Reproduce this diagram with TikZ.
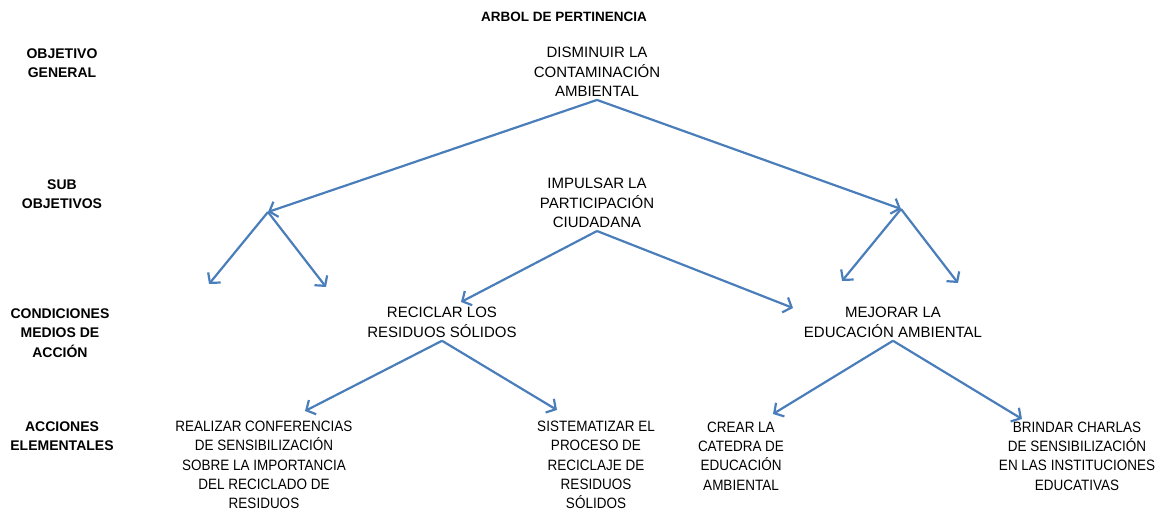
\documentclass[tikz,border=0pt]{standalone}
\usepackage{fontspec}
\setmainfont{Liberation Sans}
\newfontfamily\narrowfont{Liberation Sans}[FakeStretch=0.9]
\usetikzlibrary{arrows.meta}
\definecolor{arrowblue}{RGB}{74,126,187}
\begin{document}
\begin{tikzpicture}[x=1pt,y=-1pt,
    level/.style={font=\bfseries\fontsize{14}{19.5}\selectfont,align=center,inner sep=3pt},
    goal/.style={font=\fontsize{15}{19.5}\selectfont,align=center,inner sep=3pt},
    action/.style={font=\narrowfont\fontsize{15}{19.3}\selectfont,align=center,inner sep=3pt},
    link/.style={draw=arrowblue,line width=2.2pt,-{Straight Barb[length=7pt,width=16pt]}}]
  \useasboundingbox (0,0) rectangle (1170,511);
  \node[font=\bfseries\fontsize{13.5}{16}\selectfont] (title) at (564,17) {ARBOL DE PERTINENCIA};
  \node[level] (lobj) at (62,63) {OBJETIVO\\GENERAL};
  \node[level] (lsub) at (62,194) {SUB\\OBJETIVOS};
  \node[level] (lcond) at (60,333) {CONDICIONES\\MEDIOS DE\\ACCIÓN};
  \node[level] (lacc) at (62,436) {ACCIONES\\ELEMENTALES};
  \node[goal] (dism) at (597,72) {DISMINUIR LA\\CONTAMINACIÓN\\AMBIENTAL};
  \node[goal] (impu) at (597,203) {IMPULSAR LA\\PARTICIPACIÓN\\CIUDADANA};
  \node[goal] (reci) at (442,322.5) {RECICLAR LOS\\RESIDUOS SÓLIDOS};
  \node[goal] (mejo) at (893,322.5) {MEJORAR LA\\EDUCACIÓN AMBIENTAL};
  \node[action] (conf) at (264,465) {REALIZAR CONFERENCIAS\\DE SENSIBILIZACIÓN\\SOBRE LA IMPORTANCIA\\DEL RECICLADO DE\\RESIDUOS};
  \node[action] (sist) at (596,465) {SISTEMATIZAR EL\\PROCESO DE\\RECICLAJE DE\\RESIDUOS\\SÓLIDOS};
  \node[action] (crea) at (741,456) {CREAR LA\\CATEDRA DE\\EDUCACIÓN\\AMBIENTAL};
  \node[action] (char) at (1077,456) {BRINDAR CHARLAS\\DE SENSIBILIZACIÓN\\EN LAS INSTITUCIONES\\EDUCATIVAS};
  \coordinate (subL) at (268,212);
  \coordinate (subR) at (901,209);
  \coordinate (tipLL) at (209,284);
  \coordinate (tipLR) at (326,287);
  \coordinate (tipRL) at (842,281);
  \coordinate (tipRR) at (958,283);
  \coordinate (toReci) at (461,302);
  \coordinate (toMejo) at (793,308);
  \coordinate (toConf) at (305,411);
  \coordinate (toSist) at (557,410);
  \coordinate (toCrea) at (773,414);
  \coordinate (toChar) at (1022,419);
  \draw[link] (dism.south) -- (subL);
  \draw[link] (dism.south) -- (subR);
  \draw[link] (subL) -- (tipLL);
  \draw[link] (subL) -- (tipLR);
  \draw[link] (subR) -- (tipRL);
  \draw[link] (subR) -- (tipRR);
  \draw[link] (impu.south) -- (toReci);
  \draw[link] (impu.south) -- (toMejo);
  \draw[link] (reci.south) -- (toConf);
  \draw[link] (reci.south) -- (toSist);
  \draw[link] (mejo.south) -- (toCrea);
  \draw[link] (mejo.south) -- (toChar);
\end{tikzpicture}
\end{document}
